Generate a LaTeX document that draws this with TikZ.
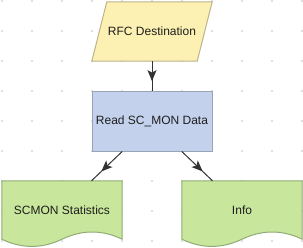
\documentclass[tikz,border=0pt]{standalone}
\usepackage{fontspec}
\setmainfont{Liberation Sans}
\usetikzlibrary{calc,arrows.meta,decorations.markings,backgrounds}
\definecolor{dotcol}{HTML}{D4D4D4}
\definecolor{txtcol}{HTML}{1E1E1E}
\definecolor{linecol}{HTML}{333333}
\definecolor{yelfill}{HTML}{FDF0B3}
\definecolor{yeldraw}{HTML}{BDB38A}
\definecolor{bluefill}{HTML}{C3D1EC}
\definecolor{bluedraw}{HTML}{98A3B5}
\definecolor{grnfill}{HTML}{C8E79C}
\definecolor{grndraw}{HTML}{90AC74}

\begin{document}
\begin{tikzpicture}[x=1pt,y=-1pt,
    lbl/.style={minimum width=120pt,inner sep=0pt,text=txtcol,font=\fontsize{12}{14}\selectfont},
    conn/.style={draw=linecol,line width=1pt,postaction={decorate},
      decoration={markings,mark=at position 0.68 with {\arrow{Stealth[length=11pt,width=9pt,inset=2.5pt]}}}}]
  \useasboundingbox (0,0) rectangle (303,247);

  \node[lbl,minimum height=59pt] (rfc) at (152,31.5) {RFC Destination};
  \node[lbl,minimum height=60pt,fill=bluefill,draw=bluedraw,line width=1pt] (read) at (152,121) {Read SC\_MON Data};
  \node[lbl,minimum height=58pt] (stats) at (62,210) {SCMON Statistics};
  \node[lbl,minimum height=58pt] (info) at (242,210) {Info};

  \begin{scope}[on background layer]
    % background grid
    \foreach \i in {0,...,10}
      \foreach \j in {0,...,8}
        \fill[dotcol] (2+30*\i,1+30*\j) circle (1.1);
    \filldraw[fill=yelfill,draw=yeldraw,line width=1pt]
      ($(rfc.north west)+(15,0)$) -- (rfc.north east) -- ($(rfc.south east)+(-15,0)$)
      -- (rfc.south west) -- cycle;
    \foreach \n in {stats,info} {
      \filldraw[fill=grnfill,draw=grndraw,line width=1pt]
        (\n.north west) -- (\n.north east) -- (\n.south east)
        .. controls ($(\n.south east)+(-20,-9.6)$) and ($(\n.south east)+(-40,-9.6)$) .. (\n.south)
        .. controls ($(\n.south)+(-20,9.6)$) and ($(\n.south west)+(20,9.6)$) .. (\n.south west) -- cycle;
    }
  \end{scope}

  \draw[conn] (rfc.south) -- (read.north);
  \draw[conn] (read.south -| stats.east) -- (stats.north -| read.west);
  \draw[conn] (read.south -| info.west) -- (info.north -| read.east);
\end{tikzpicture}
\end{document}
